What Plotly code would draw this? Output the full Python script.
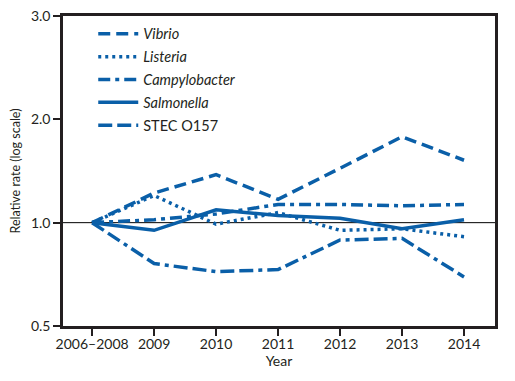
import plotly.graph_objects as go

years = ["2006–2008", "2009", "2010", "2011", "2012", "2013", "2014"]
vibrio = [1.0, 1.22, 1.38, 1.17, 1.44, 1.78, 1.52]
listeria = [1.0, 1.20, 0.99, 1.07, 0.95, 0.96, 0.91]
campylobacter = [1.0, 1.02, 1.06, 1.13, 1.13, 1.12, 1.13]
salmonella = [1.0, 0.95, 1.09, 1.05, 1.03, 0.96, 1.02]
stec = [1.0, 0.76, 0.72, 0.73, 0.89, 0.90, 0.695]
ytick_vals = [0.5, 1.0, 2.0, 4.0]
ytick_text = ["0.5", "1.0", "2.0", "3.0"]

color = "#0A5FA8"
ink = "#231F20"
font = "Lato, 'Liberation Sans', sans-serif"
xpos = list(range(len(years)))

series = [
    ("<i>Vibrio</i>", vibrio, "12px,6px"),
    ("<i>Listeria</i>", listeria, "3px,4px"),
    ("<i>Campylobacter</i>", campylobacter, "12px,5px,4px,5px"),
    ("<i>Salmonella</i>", salmonella, "solid"),
    ("STEC O157", stec, "14px,5px,14px,5px,4px,5px"),
]

fig = go.Figure()
for i, (name, vals, dash) in enumerate(series):
    fig.add_trace(go.Scatter(
        x=xpos, y=vals, mode="lines", name=name, legendgroup=str(i),
        line=dict(color=color, width=3.5, dash=dash),
    ))

fig.add_hline(y=1.0, line=dict(color="black", width=1), layer="below")

fig.update_layout(
    width=499, height=365,
    margin=dict(l=55, r=12, t=8, b=47, autoexpand=False),
    paper_bgcolor="white", plot_bgcolor="white",
    font=dict(family=font, size=14, color=ink),
    showlegend=True,
    legend=dict(x=0.07, y=0.994, xanchor="left", yanchor="top",
                bgcolor="rgba(0,0,0,0)", font=dict(size=14.5),
                tracegroupgap=1, itemwidth=40),
)
fig.update_xaxes(
    range=[-0.47, 6.5], tickvals=xpos, ticktext=years, automargin=False,
    showgrid=False, zeroline=False,
    showline=True, linecolor=ink, linewidth=2.5, mirror=True,
    ticks="outside", ticklen=7, tickwidth=2, tickcolor=ink,
    ticklabelstandoff=-4,
    title=dict(text="Year", font=dict(size=14), standoff=4),
)
fig.update_yaxes(
    type="log", range=[0.69897 - 1, 0.6021], automargin=False,
    tickvals=ytick_vals, ticktext=ytick_text, ticklabeloverflow="allow",
    showgrid=False, zeroline=False,
    showline=True, linecolor=ink, linewidth=2.5, mirror=True,
    ticks="outside", ticklen=7, tickwidth=2, tickcolor=ink,
    title=dict(text="Relative rate (log scale)", font=dict(size=12.5), standoff=10),
)

fig.write_html("out.html")
